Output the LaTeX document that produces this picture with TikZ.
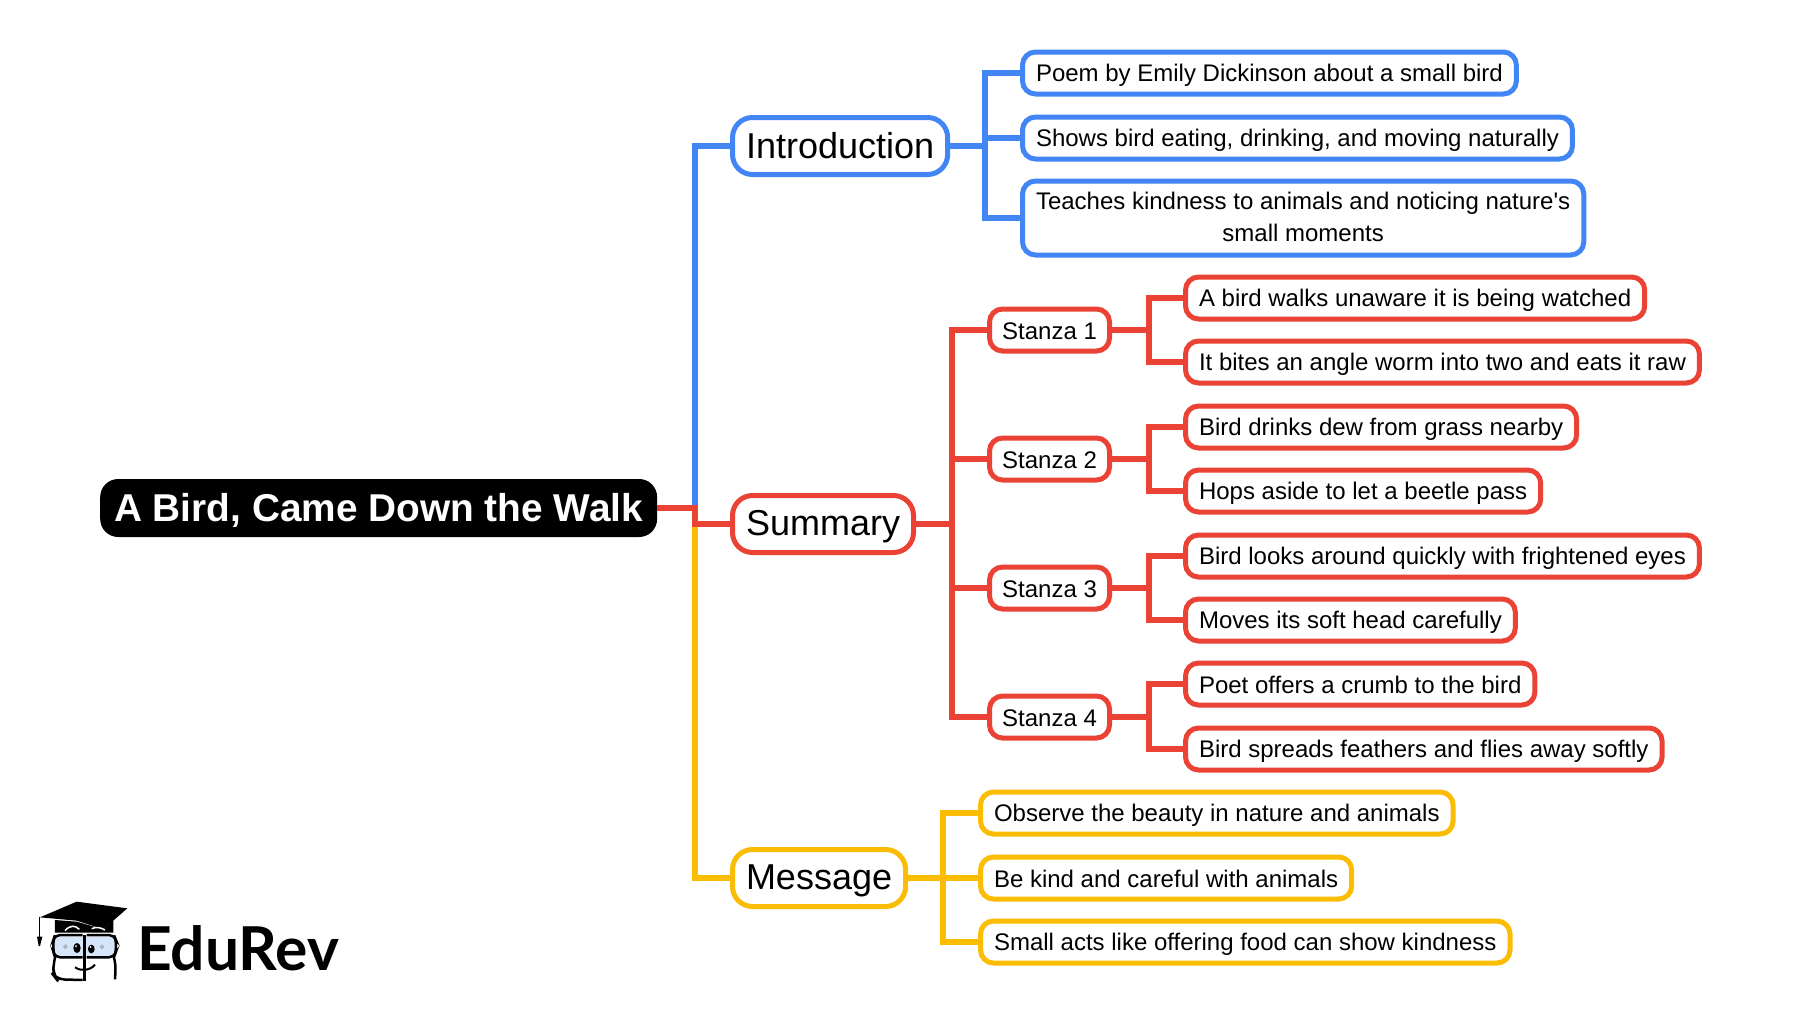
\documentclass[tikz,border=0pt]{standalone}
\usepackage{fontspec}
\setmainfont{Liberation Sans}
\newfontfamily\logofont{Lato}
\definecolor{introblue}{HTML}{4285F4}
\definecolor{sumred}{HTML}{EA4335}
\definecolor{msgyellow}{HTML}{FBBC04}
\definecolor{eyeblue}{HTML}{D6E6FA}
\newcommand{\linestrut}{\rule[-0.14em]{0pt}{1em}}
\newcommand{\leafstrut}{\rule[-0.1em]{0pt}{0.98em}}
\tikzset{
	leaf/.style={draw=#1, line width=5pt, rounded corners=13pt, fill=white, anchor=west, align=center, inner xsep=13.5pt, inner ysep=0pt, minimum height=42pt, font=\fontsize{24}{32}\selectfont, execute at begin node=\leafstrut},
	stanza/.style={leaf=sumred, inner xsep=11pt, minimum width=120pt},
	topic/.style={draw=#1, line width=5pt, rounded corners=20pt, fill=white, anchor=west, inner xsep=13.5pt, inner ysep=0pt, minimum height=57pt, font=\fontsize{36}{44}\selectfont, execute at begin node=\linestrut},
	link/.style={draw=#1, line width=6pt}
}
\begin{document}
\begin{tikzpicture}[x=1pt, y=-1pt]
	\useasboundingbox (0,0) rectangle (1803,1017);
	\node[fill=black, text=white, rounded corners=18pt, anchor=west, inner xsep=14pt, inner ysep=0pt, minimum height=58pt, font=\fontsize{38.8}{46}\selectfont\bfseries, execute at begin node=\linestrut] (root) at (100,508) {A Bird, Came Down the Walk};
	\node[topic=introblue] (intro) at (730,146) {Introduction};
	\node[topic=sumred] (summary) at (730,524) {Summary};
	\node[topic=msgyellow] (message) at (730,878) {Message};

	\node[leaf=introblue] (poem) at (1020,73) {Poem by Emily Dickinson about a small bird};
	\node[leaf=introblue] (shows) at (1020,138) {Shows bird eating, drinking, and moving naturally};
	\node[leaf=introblue, minimum height=74pt] (teaches) at (1020,218) {Teaches kindness to animals and noticing nature\textquotesingle s\\small moments\leafstrut};

	\node[stanza] (st1) at (987,330) {Stanza 1};
	\node[stanza] (st2) at (987,459) {Stanza 2};
	\node[stanza] (st3) at (987,588) {Stanza 3};
	\node[stanza] (st4) at (987,717) {Stanza 4};

	\node[leaf=sumred] (a1) at (1183,298) {A bird walks unaware it is being watched};
	\node[leaf=sumred] (a2) at (1183,362) {It bites an angle worm into two and eats it raw};
	\node[leaf=sumred] (b1) at (1183,427) {Bird drinks dew from grass nearby};
	\node[leaf=sumred] (b2) at (1183,491) {Hops aside to let a beetle pass};
	\node[leaf=sumred] (c1) at (1183,556) {Bird looks around quickly with frightened eyes};
	\node[leaf=sumred] (c2) at (1183,620) {Moves its soft head carefully};
	\node[leaf=sumred] (d1) at (1183,684) {Poet offers a crumb to the bird};
	\node[leaf=sumred] (d2) at (1183,749) {Bird spreads feathers and flies away softly};

	\node[leaf=msgyellow] (m1) at (978,813) {Observe the beauty in nature and animals};
	\node[leaf=msgyellow] (m2) at (978,878) {Be kind and careful with animals};
	\node[leaf=msgyellow] (m3) at (978,942) {Small acts like offering food can show kindness};

	\coordinate (trunk) at (695,508);
	\coordinate (introbus) at (985,146);
	\coordinate (sumbus) at (952,524);
	\coordinate (msgbus) at (943,878);

	\draw[link=msgyellow] (trunk) |- (message.west);
	\draw[link=introblue] (trunk) |- (intro.west);
	\draw[link=sumred] (root.east) -- (trunk) |- (summary.west);

	\draw[link=introblue] (poem.west) -| (introbus) -- (intro.east);
	\draw[link=introblue] (introbus) |- (shows.west);
	\draw[link=introblue] (introbus) |- (teaches.west);

	\draw[link=sumred] (summary.east) -- (sumbus);
	\draw[link=sumred] (st1.west) -| (sumbus) |- (st4.west);
	\draw[link=sumred] (sumbus) |- (st2.west);
	\draw[link=sumred] (sumbus) |- (st3.west);

	\foreach \st/\up/\down in {st1/a1/a2, st2/b1/b2, st3/c1/c2, st4/d1/d2} {
		\coordinate (\st bus) at ([xshift=37pt]\st.east);
		\draw[link=sumred] (\st.east) -- (\st bus);
		\draw[link=sumred] (\up.west) -| (\st bus) |- (\down.west);
	}

	\draw[link=msgyellow] (m1.west) -| (msgbus) |- (m3.west);
	\draw[link=msgyellow] (message.east) -- (msgbus) -- (m2.west);

	\begin{scope}[shift={(20,880)}, x=0.3333pt, y=-0.3333pt]
		\fill[eyeblue] (102,170) rectangle (285,232);
		\draw[line width=2.5pt, rounded corners=5pt] (188,165) -- (105,165) -- (100,180) -- (100,215) -- (105,232) -- (188,232);
		\draw[line width=2.5pt, rounded corners=5pt] (200,165) -- (282,165) -- (288,180) -- (288,215) -- (282,232) -- (200,232);
		\draw[line width=2.5pt, rounded corners=8pt] (105,232) -- (100,250) -- (100,285) -- (110,298) -- (188,300);
		\draw[line width=2.5pt, rounded corners=8pt] (282,232) -- (288,250) -- (285,298);
		\draw[line width=3pt] (195,165) -- (195,303);
		\fill (105,120) -- (105,158) -- (280,158) -- (280,120) -- (250,148) -- (170,125) -- cycle;
		\fill (60,112) -- (170,65) -- (322,85) -- (250,148) -- (170,122) -- cycle;
		\draw[white, line width=1.5pt] (135,152) .. controls (150,135) and (165,135) .. (178,148);
		\draw[white, line width=1.5pt] (215,146) .. controls (230,140) and (240,142) .. (255,150);
		\draw[line width=1.2pt] (58,112) -- (58,170);
		\fill (51,170) -- (67,170) -- (60,198) -- (56,198) -- cycle;
		\fill (171,204) ellipse (11 and 15);
		\fill (214,207) ellipse (10 and 13);
		\fill[white] (168,198) circle (3);
		\fill[white] (212,201) circle (3);
		\draw[line width=1pt, gray!70] (136,200) circle (5) (246,200) circle (5);
		\draw[line width=2pt] (165,262) .. controls (185,275) and (210,272) .. (225,254);
	\end{scope}
	\node[anchor=base west, inner sep=0pt, font=\fontsize{60.5}{62}\logofont\bfseries] (logo) at (137,970) {EduRev};
\end{tikzpicture}
\end{document}
